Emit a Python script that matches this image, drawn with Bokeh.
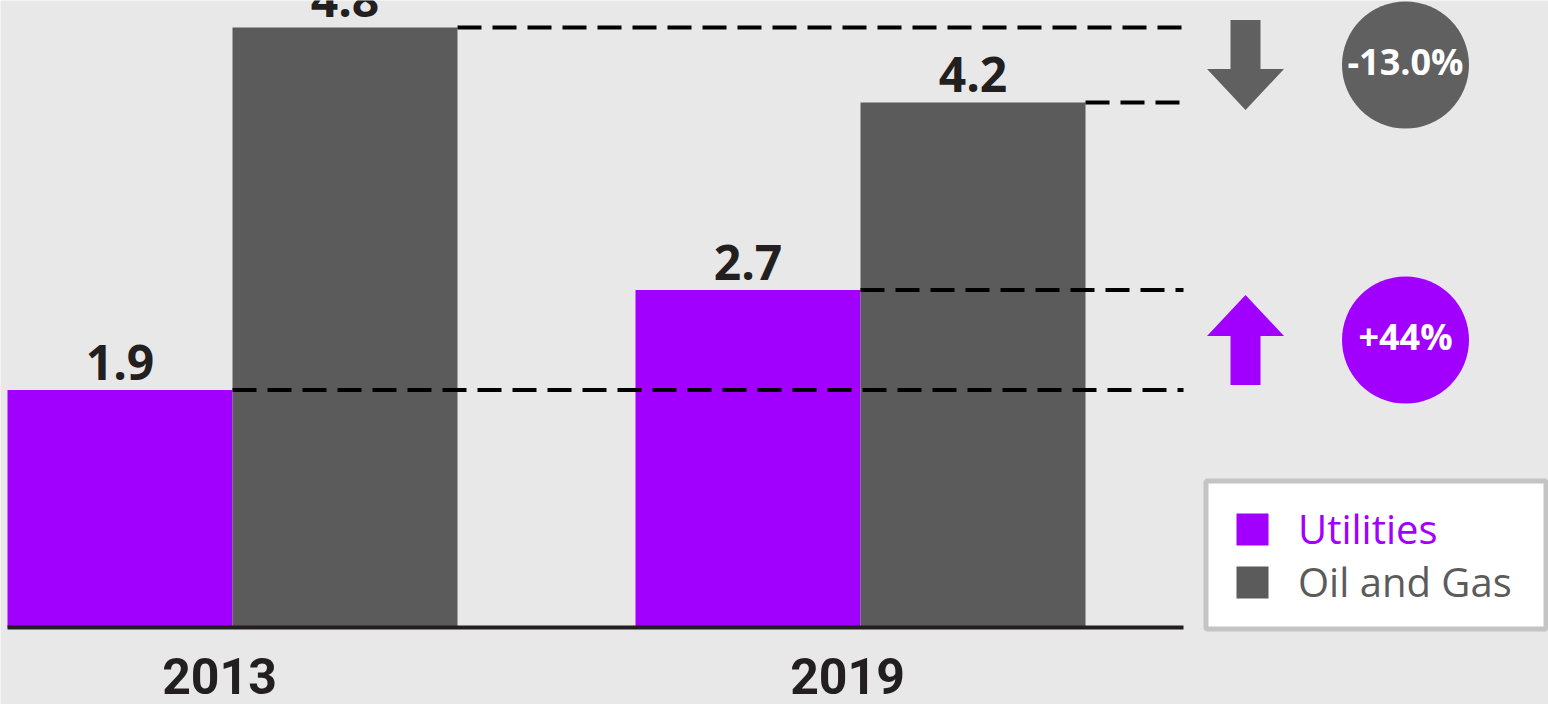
from bokeh.plotting import figure
from bokeh.models import Range1d, Legend, LegendItem
from bokeh.core.properties import value
from bokeh.embed import file_html
from bokeh.resources import INLINE

# ---------------- data ----------------
years = ["2013", "2019"]
utilities = [1.9, 2.7]
oil_gas = [4.8, 4.2]
series_names = ["Utilities", "Oil and Gas"]
change_labels = {"Utilities": "+44%", "Oil and Gas": "-13.0%"}

# ---------------- style ----------------
PURPLE = "#a100ff"
GRAY = "#5b5b5b"
CIRCLE_GRAY = "#5f605f"
BG = "#e8e8e8"
INK = "#231f20"
W, H = 1548, 704

# layout (pixels)
GROUP_PX = 628      # distance between group centres
X0_PX = 232         # pixel position of first group centre
BASE_PX = 627       # pixel row of the zero line
PX_PER_UNIT_Y = 125

def px_x(px):
    return (px - X0_PX) / GROUP_PX

def px_y(px):
    return (BASE_PX - px) / PX_PER_UNIT_Y

def dx(px):
    return px / GROUP_PX

def dy(px):
    return px / PX_PER_UNIT_Y

p = figure(width=W, height=H, output_backend="svg", toolbar_location=None,
           x_range=Range1d(-X0_PX / GROUP_PX, (W - X0_PX) / GROUP_PX),
           y_range=Range1d(-(H - BASE_PX) / PX_PER_UNIT_Y, BASE_PX / PX_PER_UNIT_Y),
           x_axis_location=None, y_axis_location=None, min_border=0)
p.background_fill_color = BG
p.border_fill_color = BG
p.outline_line_color = None
p.grid.visible = False

idx = list(range(len(years)))
bw = dx(225)
u_x = [i - bw / 2 for i in idx]
o_x = [i + bw / 2 for i in idx]

r_u = p.vbar(x=u_x, top=utilities, width=bw, fill_color=PURPLE, line_color=None)
r_o = p.vbar(x=o_x, top=oil_gas, width=bw, fill_color=GRAY, line_color=None)

# dashed reference lines from each bar to the right
x_end = px_x(1183)
seg_x0 = [x + bw / 2 for x in u_x] + [x + bw / 2 for x in o_x]
seg_y = utilities + oil_gas
p.segment(x0=seg_x0, x1=[x_end] * len(seg_x0), y0=seg_y, y1=seg_y,
          line_color="black", line_width=4, line_dash="24 11")

# baseline
p.segment(x0=[u_x[0] - bw / 2], x1=[x_end], y0=[0], y1=[0], line_color=INK, line_width=4)

# value labels
p.text(x=u_x + o_x, y=utilities + oil_gas,
       text=[f"{v:.1f}" for v in utilities + oil_gas],
       text_align="center", text_baseline="alphabetic", y_offset=-28,
       text_font=value("Open Sans"), text_font_style="bold",
       text_font_size="48px", text_color=INK)

# year labels
p.text(x=idx, y=[0] * len(idx), text=years, text_align="center",
       text_baseline="alphabetic", x_offset=-13, y_offset=48,
       text_font=value("Roboto"), text_font_style="bold",
       text_font_size="50px", text_color=INK)

# change arrows and circles
arrow_cx = px_x(1245)
circle_cx = px_x(1405)
L, hl, sw, hw = dy(90), dy(41), dx(15), dx(38.5)
series_vals = {"Utilities": utilities, "Oil and Gas": oil_gas}
series_cols = {"Utilities": PURPLE, "Oil and Gas": CIRCLE_GRAY}
xs, ys, cols, cx, cy, ctext = [], [], [], [], [], []
for name in series_names:
    v0, v1 = series_vals[name][0], series_vals[name][-1]
    mid = (v0 + v1) / 2
    d = 1 if v1 > v0 else -1
    tip = mid + d * L / 2
    tail = mid - d * L / 2
    base = tip - d * hl
    xs.append([arrow_cx - sw, arrow_cx - sw, arrow_cx - hw, arrow_cx,
               arrow_cx + hw, arrow_cx + sw, arrow_cx + sw])
    ys.append([tail, base, base, tip, base, base, tail])
    cols.append(series_cols[name])
    cx.append(circle_cx)
    cy.append(mid)
    ctext.append(change_labels[name])

p.patches(xs=xs, ys=ys, fill_color=cols, line_color=None)
p.scatter(x=cx, y=cy, size=127, marker="circle", fill_color=cols, line_color=None)
p.text(x=cx, y=cy, text=ctext, text_align="center", text_baseline="alphabetic",
       y_offset=-4, text_font=value("Open Sans"), text_font_style="bold",
       text_font_size="36px", text_color="white")

# legend box
p.quad(left=[px_x(1205.5)], right=[px_x(1545.5)], top=[px_y(480.5)], bottom=[px_y(628.5)],
       fill_color="white", line_color="#c4c4c4", line_width=5)

def make_legend(label, renderer, color, loc_y):
    leg = Legend(items=[LegendItem(label=label, renderers=[renderer])],
                 location=(1232, loc_y), orientation="vertical",
                 glyph_width=40, glyph_height=40, label_height=40,
                 label_standoff=26, padding=0, margin=0, spacing=0,
                 border_line_color=None, background_fill_alpha=0,
                 label_text_font="Open Sans", label_text_font_size="40px",
                 label_text_color=color)
    p.add_layout(leg)

make_legend("Utilities", r_u, PURPLE, 148)
make_legend("Oil and Gas", r_o, GRAY, 95)

open("out.html", "w").write(file_html(p, INLINE))
